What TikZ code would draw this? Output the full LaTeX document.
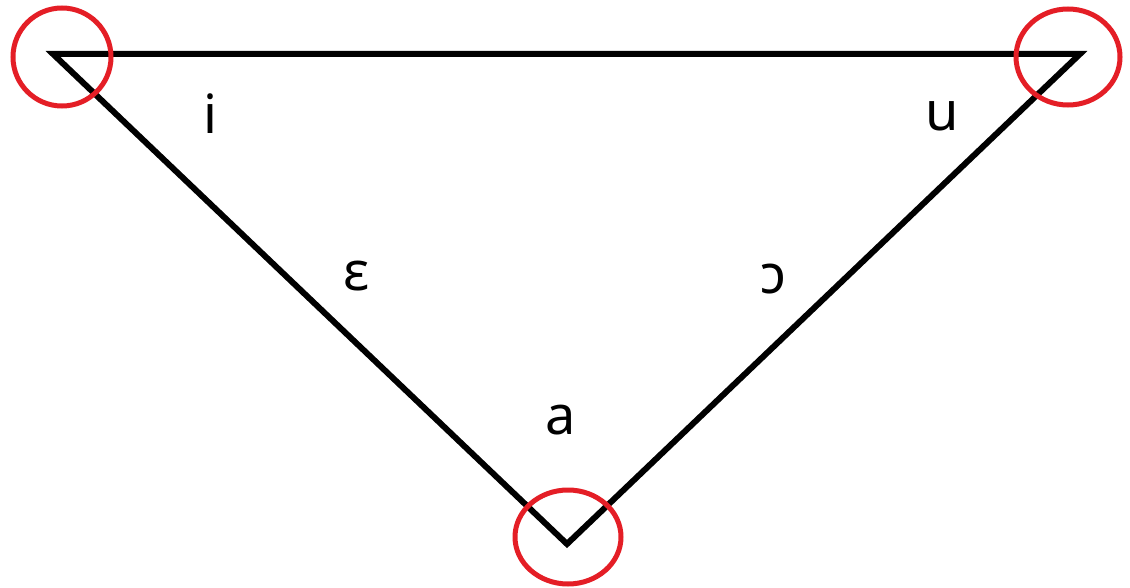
\documentclass[tikz,border=0pt]{standalone}
\usepackage{fontspec}
\setmainfont{Noto Sans}
\definecolor{ringred}{RGB}{228,30,38}
\begin{document}
\begin{tikzpicture}[x=1pt,y=-1pt,
  edge/.style={line width=6pt, line join=miter, black},
  ring/.style={draw=ringred, line width=5pt},
  vowel/.style={font=\fontsize{54}{60}\selectfont, inner sep=0pt, anchor=base}]
\useasboundingbox (0,0) rectangle (1130,588);
\coordinate (L) at (53,54);
\coordinate (R) at (1080,54);
\coordinate (B) at (567,544);
\draw[edge] (L) -- (R) -- (B) -- cycle;
\draw[ring] (62,57) ellipse [x radius=49, y radius=49];
\draw[ring] (1068,57) ellipse [x radius=52, y radius=48];
\draw[ring] (568,537) ellipse [x radius=53, y radius=47];
\node[vowel] (i) at (210,134) {i};
\node[vowel] (u) at (942,131) {u};
\node[vowel] (e) at (357,290) {ɛ};
\node[vowel] (o) at (773,293) {ɔ};
\node[vowel] (a) at (561,434) {a};
\end{tikzpicture}
\end{document}
